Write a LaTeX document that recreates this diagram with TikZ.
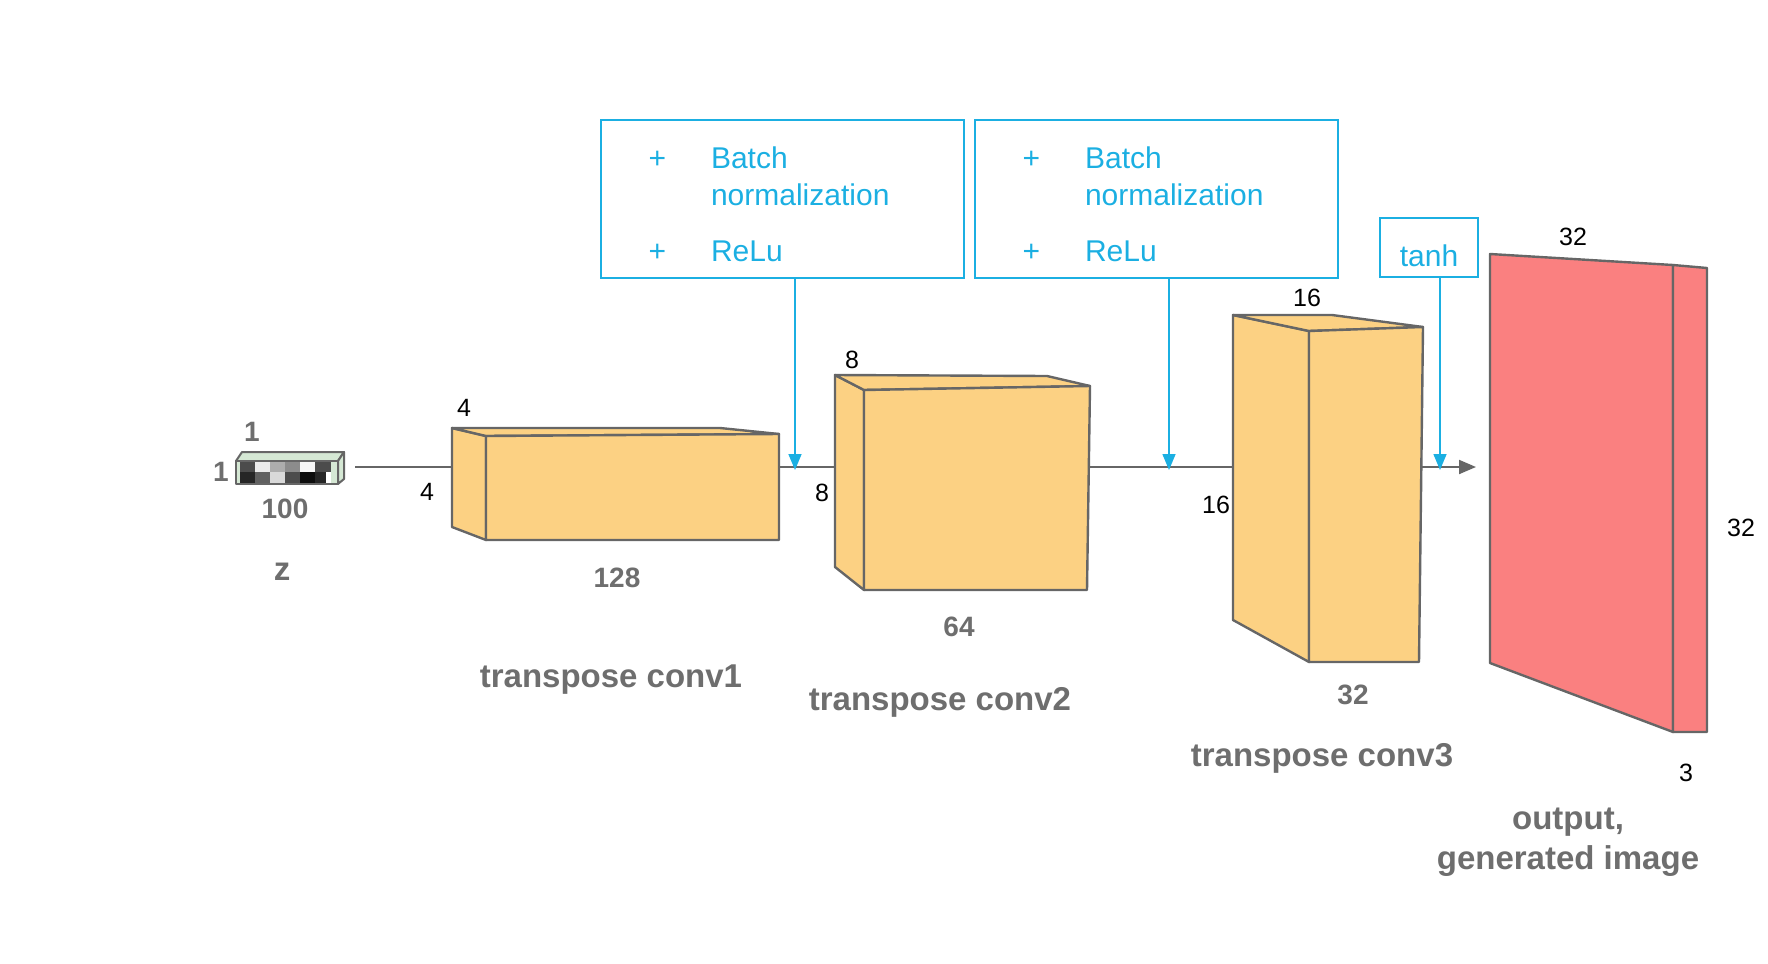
\documentclass[tikz,border=0pt]{standalone}
\usepackage{fontspec}
\setmainfont{Liberation Sans}
\usetikzlibrary{arrows.meta,calc}
\definecolor{bnblue}{RGB}{27,175,226}
\definecolor{layerorange}{RGB}{252,209,131}
\definecolor{outred}{RGB}{250,128,128}
\definecolor{edgegray}{RGB}{102,102,102}
\definecolor{labelgray}{RGB}{110,110,110}
\definecolor{zgreen}{RGB}{213,232,212}

\begin{document}
\begin{tikzpicture}[x=0.5pt,y=-0.5pt,
    face/.style={fill=layerorange, draw=edgegray, line width=1.2pt, line join=round},
    outface/.style={fill=outred, draw=edgegray, line width=1.2pt, line join=round},
    zface/.style={fill=zgreen, draw=edgegray, line width=1pt, line join=round},
    flow/.style={draw=edgegray, line width=1pt},
    bnarrow/.style={draw=bnblue, line width=0.8pt, -{Triangle[length=8pt,width=6.5pt]}},
    bnbox/.style={draw=bnblue, line width=1pt, minimum width=181.5pt, minimum height=79pt, inner sep=0pt},
    bntext/.style={text=bnblue, font=\fontsize{15}{18.5}\selectfont, inner sep=0pt},
    dimlabel/.style={font=\fontsize{12.5}{15}\selectfont},
    sizelabel/.style={text=labelgray, font=\fontsize{14}{17}\selectfont\bfseries},
    caption/.style={text=labelgray, font=\fontsize{16.5}{20}\selectfont\bfseries, align=center}]
\useasboundingbox (0,0) rectangle (1768,964);

%% connection points on the layers
\coordinate (zout) at (355,467);
\coordinate (c1in) at (452,467);
\coordinate (c1out) at (779,467);
\coordinate (c2in) at (835,467);
\coordinate (c2out) at (1088,467);
\coordinate (c3in) at (1233,467);
\coordinate (c3out) at (1421,467);
\coordinate (outtip) at (1476,467);
\draw[flow] (zout) -- (c1in);
\draw[flow] (c1out) -- (c2in);
\draw[flow] (c2out) -- (c3in);
\draw[flow, -{Triangle[length=8.5pt,width=7pt]}] (c3out) -- (outtip);

%% z vector
\filldraw[zface] (236,461) -- (242,452) -- (344,452) -- (338,461) -- cycle;
\filldraw[zface] (338,461) -- (344,452) -- (344,479) -- (338,484) -- cycle;
\filldraw[zface] (236,461) rectangle (338,484);
\fill[black!70] (240,462) rectangle (255,472); \fill[black!8] (255,462) rectangle (270,472);
\fill[black!32] (270,462) rectangle (285,472); \fill[black!45] (285,462) rectangle (300,472);
\fill[black!3] (300,462) rectangle (315,472); \fill[black!70] (315,462) rectangle (331,472);
\fill[black!85] (240,472) rectangle (255,483); \fill[black!62] (255,472) rectangle (270,483);
\fill[black!15] (270,472) rectangle (285,483); \fill[black!70] (285,472) rectangle (300,483);
\fill[black!95] (300,472) rectangle (315,483); \fill[black!85] (315,472) rectangle (326,483);
\fill[white] (326,472) rectangle (331,483);

%% transpose conv1
\filldraw[face] (452,428) -- (486,436) -- (486,540) -- (452,527) -- cycle;
\filldraw[face] (452,428) -- (720,428) -- (779,434) -- (486,436) -- cycle;
\filldraw[face] (486,436) -- (779,434) -- (779,540) -- (486,540) -- cycle;

%% transpose conv2
\filldraw[face] (835,375) -- (864,390) -- (864,590) -- (835,567) -- cycle;
\filldraw[face] (835,375) -- (1047,376) -- (1090,386) -- (864,390) -- cycle;
\filldraw[face] (864,390) -- (1090,386) -- (1087,590) -- (864,590) -- cycle;

%% transpose conv3
\filldraw[face] (1233,315) -- (1309,331) -- (1309,662) -- (1233,620) -- cycle;
\filldraw[face] (1233,315) -- (1332,315) -- (1423,327) -- (1309,331) -- cycle;
\filldraw[face] (1309,331) -- (1423,327) -- (1419,662) -- (1309,662) -- cycle;

%% output image
\filldraw[outface] (1490,254) -- (1673,265) -- (1673,732) -- (1490,663) -- cycle;
\filldraw[outface] (1673,265) -- (1707,268) -- (1707,732) -- (1673,732) -- cycle;

%% activation boxes
\node[bnbox] (bn1) at (782,199) {};
\node[bntext] (bn1txt) at ($(bn1.center)+(-13,8.5)$) {\begin{tabular}{@{}c@{\hspace{22.5pt}}l@{}}+ & Batch\\ & normalization\\[9.5pt] + & ReLu\end{tabular}};
\node[bnbox] (bn2) at (1156,199) {};
\node[bntext] (bn2txt) at ($(bn2.center)+(-13,8.5)$) {\begin{tabular}{@{}c@{\hspace{22.5pt}}l@{}}+ & Batch\\ & normalization\\[9.5pt] + & ReLu\end{tabular}};
\node[bnbox, bntext, minimum width=49pt, minimum height=29.5pt, text height=18.5pt, text depth=0pt] (tanh) at (1429,247.5) {tanh};
\coordinate (bn1in) at (795,470);
\coordinate (bn2in) at (1169,470);
\coordinate (tanhin) at (1440,470);
\draw[bnarrow] (bn1.south -| bn1in) -- (bn1in);
\draw[bnarrow] (bn2.south -| bn2in) -- (bn2in);
\draw[bnarrow] (tanh.south -| tanhin) -- (tanhin);

%% labels
\node[sizelabel] (zone) at (252,432) {1};
\node[sizelabel] (zonel) at (221,472) {1};
\node[sizelabel] (zlen) at (285,509) {100};
\node[caption] (zname) at (282,572) {z};
\node[dimlabel] (c1h) at (464,408) {4};
\node[dimlabel] (c1w) at (427,492) {4};
\node[sizelabel] (c1d) at (617,578) {128};
\node[caption] (c1name) at (611,680) {transpose conv1};
\node[dimlabel] (c2h) at (852,360) {8};
\node[dimlabel] (c2w) at (822,493) {8};
\node[sizelabel] (c2d) at (959,627) {64};
\node[caption] (c2name) at (940,702) {transpose conv2};
\node[dimlabel] (c3h) at (1307,298) {16};
\node[dimlabel] (c3w) at (1216,505) {16};
\node[sizelabel] (c3d) at (1353,695) {32};
\node[caption] (c3name) at (1322,758) {transpose conv3};
\node[dimlabel] (outw) at (1573,237) {32};
\node[dimlabel] (outh) at (1741,528) {32};
\node[dimlabel] (outd) at (1686,773) {3};
\node[caption] (outname) at (1568,842) {output,\\generated image};
\end{tikzpicture}
\end{document}
